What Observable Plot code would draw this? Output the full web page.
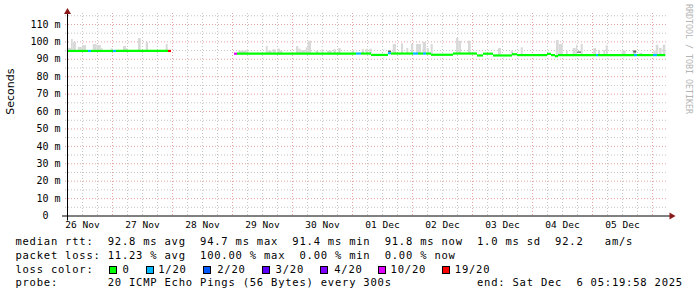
<!DOCTYPE html>
<html><head><meta charset="utf-8">
<script src="https://cdn.jsdelivr.net/npm/d3@7"></script>
<script src="https://cdn.jsdelivr.net/npm/@observablehq/plot@0.6"></script>
<style>
html,body{margin:0;padding:0;background:#fff;}
#wrap{position:relative;width:697px;height:297px;overflow:hidden;background:#fff;}
#wrap svg{position:absolute;left:0;top:0;}
.t{position:absolute;font-family:"DejaVu Sans Mono",monospace;font-size:10.5px;letter-spacing:0.78px;white-space:pre;color:#000;line-height:10.5px;}
.sq{position:absolute;width:8px;height:8px;box-sizing:border-box;border:1px solid #000;}
#rrd{position:absolute;left:693px;top:4px;transform:rotate(90deg);transform-origin:0 0;font-family:"DejaVu Sans Mono",monospace;font-size:8.3px;line-height:8.3px;color:#b4b4b4;white-space:pre;}
</style></head>
<body><div id="wrap"></div>
<script>
// ---- data ----
const timeStart = "2025-11-26T06:00";
const timeEnd = "2025-12-06T06:00";
const yTicks = [0,10,20,30,40,50,60,70,80,90,100,110];
const yMax = 116.3;
const xLabelDays = ["2025-11-26T12:00","2025-11-27T12:00","2025-11-28T12:00","2025-11-29T12:00","2025-11-30T12:00",
  "2025-12-01T12:00","2025-12-02T12:00","2025-12-03T12:00","2025-12-04T12:00","2025-12-05T12:00"];
const lossLevels = ["0","1/20","2/20","3/20","4/20","10/20","19/20"];
const lossColors = ["#00ff00","#00b8ff","#0059ff","#5e00ff","#7e00ff","#dd00ff","#ff0000"];

// median rtt segments: start, end, ms, loss
const medianSegments = [
  ["2025-11-26T06:00","2025-11-26T14:24",94.8,"0"],
  ["2025-11-26T14:24","2025-11-26T15:36",94.8,"1/20"],
  ["2025-11-26T15:36","2025-11-27T00:24",94.8,"0"],
  ["2025-11-27T00:24","2025-11-27T01:36",94.8,"1/20"],
  ["2025-11-27T01:36","2025-11-27T22:24",94.8,"0"],
  ["2025-11-27T22:24","2025-11-27T23:36",94.8,"19/20"],
  ["2025-11-29T00:48","2025-11-29T02:00",93.2,"10/20"],
  ["2025-11-29T02:00","2025-12-01T01:36",93.3,"0"],
  ["2025-12-01T01:36","2025-12-01T03:36",93.3,"1/20"],
  ["2025-12-01T03:36","2025-12-01T07:36",93.3,"0"],
  ["2025-12-01T07:36","2025-12-01T14:24",92.5,"0"],
  ["2025-12-01T14:24","2025-12-01T15:36",93.5,"1/20"],
  ["2025-12-01T15:36","2025-12-02T00:24",93.3,"0"],
  ["2025-12-02T00:24","2025-12-02T02:24",93.3,"1/20"],
  ["2025-12-02T02:24","2025-12-02T04:24",93.3,"0"],
  ["2025-12-02T04:24","2025-12-02T05:36",93.3,"1/20"],
  ["2025-12-02T05:36","2025-12-02T07:36",93.3,"0"],
  ["2025-12-02T07:36","2025-12-02T16:24",92.6,"0"],
  ["2025-12-02T16:24","2025-12-03T02:00",93.3,"0"],
  ["2025-12-03T02:00","2025-12-03T04:24",92.2,"0"],
  ["2025-12-03T04:24","2025-12-03T08:24",93.2,"0"],
  ["2025-12-03T08:24","2025-12-03T16:00",92.2,"0"],
  ["2025-12-03T16:00","2025-12-03T18:00",92.9,"0"],
  ["2025-12-03T18:00","2025-12-04T06:00",92.4,"0"],
  ["2025-12-04T06:00","2025-12-04T07:36",93.1,"0"],
  ["2025-12-04T07:36","2025-12-04T09:12",92.4,"0"],
  ["2025-12-04T09:12","2025-12-04T10:24",91.8,"0"],
  ["2025-12-04T10:24","2025-12-05T01:36",92.4,"0"],
  ["2025-12-05T01:36","2025-12-05T02:24",92.4,"1/20"],
  ["2025-12-05T02:24","2025-12-05T16:48",92.4,"0"],
  ["2025-12-05T16:48","2025-12-05T18:00",92.4,"1/20"],
  ["2025-12-05T18:00","2025-12-06T00:24",92.4,"0"],
  ["2025-12-06T00:24","2025-12-06T02:00",92.4,"1/20"],
  ["2025-12-06T02:00","2025-12-06T05:20",92.4,"0"]
];

// smoke (ping spread above the median): start, end, max ms
const smoke = [
  ["2025-11-26T06:00","2025-11-26T07:36",96.3],
  ["2025-11-26T07:36","2025-11-26T08:17",101.4],
  ["2025-11-26T08:17","2025-11-26T09:36",99.7],
  ["2025-11-26T10:17","2025-11-26T12:07",96.8],
  ["2025-11-26T12:07","2025-11-26T13:36",97.9],
  ["2025-11-26T16:17","2025-11-26T17:53",98.5],
  ["2025-11-26T17:53","2025-11-26T19:29",97.9],
  ["2025-11-26T19:29","2025-11-26T20:17",96.0],
  ["2025-11-26T23:29","2025-11-27T00:17",96.0],
  ["2025-11-27T04:24","2025-11-27T05:36",97.3],
  ["2025-11-27T05:36","2025-11-27T06:17",96.0],
  ["2025-11-27T10:24","2025-11-27T11:29",101.9],
  ["2025-11-27T13:29","2025-11-27T14:24",99.7],
  ["2025-11-27T21:29","2025-11-27T22:17",98.5],
  ["2025-11-29T02:31","2025-11-29T05:53",94.7],
  ["2025-11-29T05:53","2025-11-29T06:31",95.5],
  ["2025-11-29T13:29","2025-11-29T14:17",97.3],
  ["2025-11-29T14:17","2025-11-29T15:53",94.7],
  ["2025-11-29T16:17","2025-11-29T17:29",95.5],
  ["2025-11-29T18:07","2025-11-29T19:12",95.8],
  ["2025-11-29T19:12","2025-11-29T20:07",94.7],
  ["2025-11-30T01:36","2025-11-30T02:31",97.3],
  ["2025-11-30T02:31","2025-11-30T03:29",95.8],
  ["2025-11-30T03:36","2025-11-30T05:29",95.0],
  ["2025-11-30T05:29","2025-11-30T06:17",96.6],
  ["2025-11-30T06:17","2025-11-30T07:36",100.4],
  ["2025-11-30T09:29","2025-11-30T10:31",94.7],
  ["2025-11-30T11:53","2025-11-30T12:31",95.5],
  ["2025-11-30T14:07","2025-11-30T15:53",94.7],
  ["2025-11-30T16:31","2025-11-30T17:36",95.5],
  ["2025-11-30T18:31","2025-11-30T19:29",96.2],
  ["2025-11-30T23:53","2025-12-01T00:48",94.7],
  ["2025-12-01T03:53","2025-12-01T04:48",95.5],
  ["2025-12-01T05:29","2025-12-01T06:17",95.8],
  ["2025-12-01T06:55","2025-12-01T07:53",95.8],
  ["2025-12-01T16:17","2025-12-01T17:36",98.5],
  ["2025-12-01T19:36","2025-12-01T20:24",98.9],
  ["2025-12-01T21:43","2025-12-01T22:31",96.2],
  ["2025-12-01T23:36","2025-12-02T00:31",98.5],
  ["2025-12-02T01:36","2025-12-02T03:36",98.5],
  ["2025-12-02T04:17","2025-12-02T05:36",99.7],
  ["2025-12-02T05:53","2025-12-02T06:41",96.2],
  ["2025-12-02T07:29","2025-12-02T08:17",98.5],
  ["2025-12-02T17:36","2025-12-02T18:31",101.9],
  ["2025-12-02T18:31","2025-12-02T19:36",100.4],
  ["2025-12-02T22:24","2025-12-02T23:29",100.4],
  ["2025-12-03T10:24","2025-12-03T11:36",96.2],
  ["2025-12-03T15:29","2025-12-03T16:31",94.7],
  ["2025-12-03T19:29","2025-12-03T20:17",96.6],
  ["2025-12-04T09:36","2025-12-04T10:41",100.8],
  ["2025-12-04T10:41","2025-12-04T12:17",98.5],
  ["2025-12-04T13:36","2025-12-04T14:17",94.7],
  ["2025-12-04T16:17","2025-12-04T17:29",96.2],
  ["2025-12-04T17:36","2025-12-04T18:07",98.1],
  ["2025-12-04T19:29","2025-12-04T20:17",98.5],
  ["2025-12-05T00:31","2025-12-05T01:36",96.2],
  ["2025-12-05T02:24","2025-12-05T03:12",95.0],
  ["2025-12-05T04:31","2025-12-05T05:12",95.0],
  ["2025-12-05T05:29","2025-12-05T06:17",97.7],
  ["2025-12-05T11:53","2025-12-05T13:29",94.7],
  ["2025-12-05T16:17","2025-12-05T17:36",95.0],
  ["2025-12-05T18:55","2025-12-05T20:00",93.5],
  ["2025-12-06T00:31","2025-12-06T01:29",94.7],
  ["2025-12-06T01:29","2025-12-06T02:31",98.1],
  ["2025-12-06T02:48","2025-12-06T03:53",96.2],
  ["2025-12-06T04:17","2025-12-06T05:20",98.1]
];
// dense smoke spots: start, end, low ms, high ms
const denseSmoke = [
  ["2025-12-01T14:24","2025-12-01T15:36",93.9,94.7],
  ["2025-12-04T18:07","2025-12-04T19:36",93.5,94.2],
  ["2025-12-05T16:31","2025-12-05T17:43",93.6,94.7]
];

// legend texts
const legendLine1 = "median rtt:  92.8 ms avg  94.7 ms max  91.4 ms min  91.8 ms now  1.0 ms sd  92.2   am/s";
const legendLine2 = "packet loss: 11.23 % avg  100.00 % max  0.00 % min  0.00 % now";
const legendLine3 = "loss color:";
const legendLine4 = "probe:       20 ICMP Echo Pings (56 Bytes) every 300s            end: Sat Dec  6 05:19:58 2025";

// ---- build ----
const parse = d3.utcParse("%Y-%m-%dT%H:%M");
const med = medianSegments.map(([s,e,v,l]) => ({start: parse(s), end: parse(e), v, loss: l}));
const medianAt = t => { const m = med.find(d => d.start <= t && t < d.end); return m ? m.v : null; };
const smokeData = smoke.map(([s,e,hi]) => { const a = parse(s), b = parse(e);
  return {start: a, end: b, hi, lo: medianAt(new Date((+a + +b)/2))}; }).filter(d => d.lo != null);
const denseData = denseSmoke.map(([s,e,lo,hi]) => ({start: parse(s), end: parse(e), lo, hi}));
const x0 = parse(timeStart), x1 = parse(timeEnd);
const xMajor = d3.utcDay.range(new Date(+x0 + 1), x1);
const xMinor = d3.utcHour.every(6).range(x0, x1).filter(d => d.getUTCHours() !== 0);
const yMajor = yTicks.filter(v => v > 0);
const yMinor = d3.range(5, yMax, 10);
const redGrid = "#e6a3a3", greyGrid = "#c4c4c4";

const chart = Plot.plot({
  width: 697, height: 235,
  marginLeft: 67, marginRight: 30, marginTop: 13, marginBottom: 19.5,
  style: {background: "transparent", fontFamily: "DejaVu Sans Mono, monospace"},
  x: {type: "utc", domain: [x0, x1]},
  y: {domain: [0, yMax]},
  color: {domain: lossLevels, range: lossColors},
  marks: [
    Plot.ruleY(yMinor, {y: d => d, stroke: greyGrid, strokeDasharray: "1,2", insetLeft: -2}),
    Plot.ruleX(xMinor, {x: d => d, stroke: greyGrid, strokeDasharray: "1,2"}),
    Plot.ruleY(yMajor, {y: d => d, stroke: redGrid, strokeDasharray: "1,2", insetLeft: -2}),
    Plot.ruleX(xMajor, {x: d => d, stroke: redGrid, strokeDasharray: "1,2"}),
    Plot.rectY(smokeData, {x1: "start", x2: "end", y1: "lo", y2: "hi", fill: "#d9d9d9"}),
    Plot.rectY(denseData, {x1: "start", x2: "end", y1: "lo", y2: "hi", fill: "#5f5f5f"}),
    Plot.ruleY(med, {x1: "start", x2: "end", y: "v", stroke: "loss", strokeWidth: 2.2}),
    Plot.ruleY([0], {stroke: "#000", insetLeft: -5, insetRight: -4}),
    Plot.ruleX([x0], {stroke: "#000", insetBottom: -5, insetTop: -1}),
    Plot.dot([x1], {x: d => d, y: () => 0, symbol: "triangle", rotate: 90, r: 2.6, fill: "#8b1a1a", dx: 4}),
    Plot.dot([x0], {x: d => d, y: () => yMax, symbol: "triangle", r: 2.6, fill: "#8b1a1a", dy: -1.5}),
    Plot.axisY({ticks: yTicks, tickSize: 0, tickPadding: 7, label: null, fontSize: 10,
      tickFormat: d => d === 0 ? "0\u00a0\u00a0" : d + "\u00a0m"}),
    Plot.axisX({ticks: xLabelDays.map(parse), tickSize: 0, tickPadding: 5, label: null, fontSize: 9.5,
      tickFormat: d3.utcFormat("%d %b")}),
    Plot.text(["Seconds"], {text: d => d, frameAnchor: "left", dx: -57, rotate: -90,
      fontFamily: "DejaVu Sans, sans-serif", fontSize: 11, fill: "#000"})
  ]
});
const wrap = document.getElementById("wrap");
wrap.appendChild(chart);

function addText(str, left, top) {
  const d = document.createElement("div");
  d.className = "t"; d.textContent = str;
  d.style.left = left + "px"; d.style.top = top + "px";
  wrap.appendChild(d);
}
addText(legendLine1, 15.4, 236.3);
addText(legendLine2, 15.4, 249.9);
addText(legendLine3, 15.4, 263.6);
addText(legendLine4, 15.4, 277.3);
const sqLeft = [108.7, 145.7, 203.3, 261.7, 320.3, 377.7, 442.3];
const lblLeft = [122.4, 158.2, 217.2, 275.6, 334.2, 390.6, 454.8];
lossLevels.forEach((l, i) => {
  const s = document.createElement("div");
  s.className = "sq"; s.style.left = sqLeft[i] + "px"; s.style.top = "265.5px";
  s.style.background = lossColors[i];
  wrap.appendChild(s);
  addText(l, lblLeft[i], 263.6);
});
const r = document.createElement("div");
r.id = "rrd"; r.textContent = "RRDTOOL / TOBI OETIKER";
wrap.appendChild(r);
</script>
</body></html>
